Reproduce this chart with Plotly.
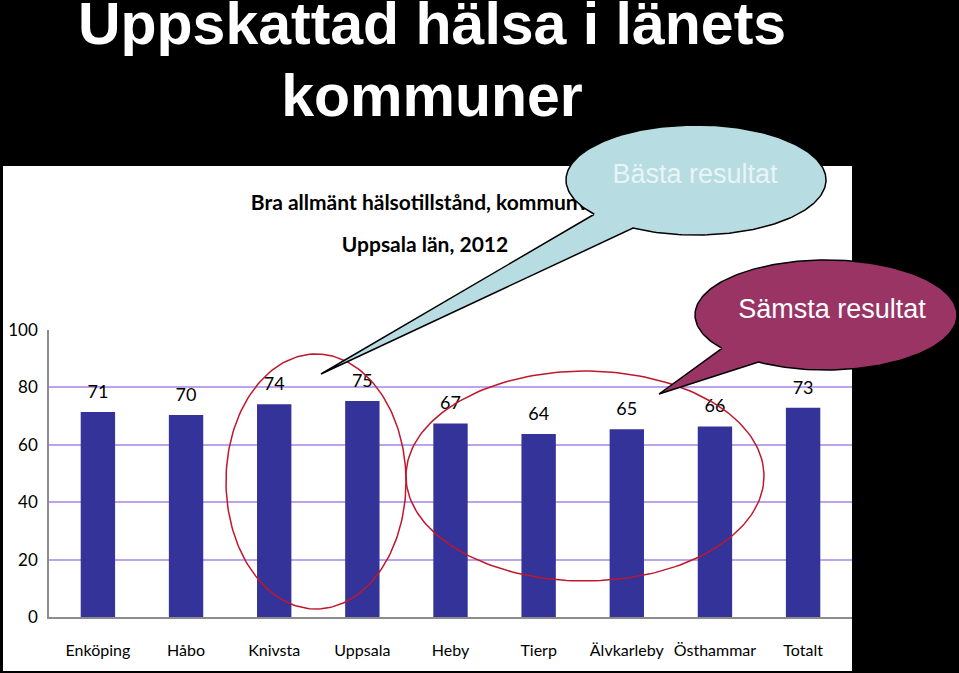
import numpy as np
import plotly.graph_objects as go

W, H = 959, 673

# ---- data ----
categories = ["Enköping", "Håbo", "Knivsta", "Uppsala", "Heby", "Tierp", "Älvkarleby", "Östhammar", "Totalt"]
values = [71.4, 70.4, 74.1, 75.3, 67.4, 63.8, 65.4, 66.4, 72.9]
value_labels = ["71", "70", "74", "75", "67", "64", "65", "66", "73"]
y_tick_values = [0, 20, 40, 60, 80, 100]
main_title_lines = ["Uppskattad hälsa i länets", "kommuner"]
chart_title_lines = ["Bra allmänt hälsotillstånd, kommunvis", "Uppsala län, 2012"]
callout_best_text = "Bästa resultat"
callout_worst_text = "Sämsta resultat"

NARROW = "Lato, Roboto, sans-serif"
ARIAL = "Liberation Sans, Arial, sans-serif"

# plot area in pixels
L, R, T, B = 49, 852, 330, 617


def ellipse(cx, cy, rx, ry, a0=0, a1=360, n=200):
    t = np.radians(np.linspace(a0, a1, n))
    return list(cx + rx * np.cos(t)), list(cy + ry * np.sin(t))


def callout(cx, cy, rx, ry, a_start, a_end, tip):
    xs, ys = ellipse(cx, cy, rx, ry, a_start, a_end + 360, 240)
    xs = xs + [tip[0], xs[0]]
    ys = ys + [tip[1], ys[0]]
    return xs, ys


fig = go.Figure()

# bars
fig.add_trace(go.Bar(
    x=categories, y=values, marker=dict(color="#333399", line=dict(width=0)),
    xaxis="x", yaxis="y", hoverinfo="skip", showlegend=False,
))

# value labels
fig.add_trace(go.Scatter(
    x=categories, y=values, mode="markers+text", text=value_labels,
    textposition="top center", marker=dict(size=14, opacity=0),
    textfont=dict(family=NARROW, size=18, color="black"),
    cliponaxis=False, xaxis="x", yaxis="y", hoverinfo="skip", showlegend=False,
))

# red ellipses
for (cx, cy, rx, ry) in [(316, 481.5, 90, 127.5), (585, 476, 179, 105)]:
    ex, ey = ellipse(cx, cy, rx, ry)
    fig.add_trace(go.Scatter(x=ex, y=ey, mode="lines", line=dict(color="#c0172c", width=1.5),
                             xaxis="x2", yaxis="y2", hoverinfo="skip", showlegend=False))

# main title
fig.add_trace(go.Scatter(
    x=[432, 432], y=[29, 101], mode="text",
    text=["<b>%s</b>" % s for s in main_title_lines], textposition="middle center",
    textfont=dict(family=ARIAL, size=59, color="white"),
    cliponaxis=False, xaxis="x2", yaxis="y2", hoverinfo="skip", showlegend=False,
))

# chart title
fig.add_trace(go.Scatter(
    x=[427, 425], y=[205, 247], mode="text",
    text=["<b>%s</b>" % s for s in chart_title_lines], textposition="middle center",
    textfont=dict(family=NARROW, size=21, color="black"),
    cliponaxis=False, xaxis="x2", yaxis="y2", hoverinfo="skip", showlegend=False,
))

# callouts
bx, by = callout(696, 180, 130, 55, 141.5, 119, (321, 374))
fig.add_trace(go.Scatter(x=bx, y=by, mode="lines", fill="toself", fillcolor="#b7dde2",
                         line=dict(color="black", width=1.5),
                         xaxis="x2", yaxis="y2", hoverinfo="skip", showlegend=False))
wx, wy = callout(826, 315, 131, 55, 142.6, 121, (659, 394))
fig.add_trace(go.Scatter(x=wx, y=wy, mode="lines", fill="toself", fillcolor="#9a3465",
                         line=dict(color="black", width=1.5),
                         xaxis="x2", yaxis="y2", hoverinfo="skip", showlegend=False))

fig.add_trace(go.Scatter(
    x=[695], y=[176], mode="text", text=[callout_best_text], textposition="middle center",
    textfont=dict(family=ARIAL, size=27, color="#e8f4f5"),
    cliponaxis=False, xaxis="x2", yaxis="y2", hoverinfo="skip", showlegend=False,
))
fig.add_trace(go.Scatter(
    x=[832], y=[311], mode="text", text=[callout_worst_text], textposition="middle center",
    textfont=dict(family=ARIAL, size=27, color="white"),
    cliponaxis=False, xaxis="x2", yaxis="y2", hoverinfo="skip", showlegend=False,
))

fig.update_layout(
    width=W, height=H,
    margin=dict(l=0, r=0, t=0, b=0, autoexpand=False),
    paper_bgcolor="black",
    plot_bgcolor="rgba(0,0,0,0)",
    bargap=0.61,
    showlegend=False,
    xaxis=dict(
        domain=[L / W, R / W], anchor="y", type="category", automargin=False,
        showgrid=False, showline=True, linecolor="#8c8c8c", linewidth=1.5,
        ticks="", tickangle=0, tickfont=dict(family=NARROW, size=16, color="black"),
        ticklabelstandoff=18, fixedrange=True,
    ),
    yaxis=dict(
        domain=[1 - B / H, 1 - T / H], anchor="x", range=[0, 100], automargin=False,
        tickvals=y_tick_values, showgrid=True, gridcolor="#bda2ec", gridwidth=1.5,
        zeroline=False, showline=True, linecolor="#8c8c8c", linewidth=1.5,
        ticks="", tickfont=dict(family=NARROW, size=17, color="black"),
        ticklabelstandoff=6, fixedrange=True,
    ),
    xaxis2=dict(domain=[0, 1], anchor="y2", range=[0, W], visible=False, fixedrange=True),
    yaxis2=dict(domain=[0, 1], anchor="x2", range=[H, 0], visible=False, fixedrange=True),
    shapes=[dict(type="rect", xref="paper", yref="paper", layer="below",
                 x0=3 / W, x1=852 / W, y0=1 - 671 / H, y1=1 - 166 / H,
                 fillcolor="white", line=dict(width=0))],
)

fig.write_html("out.html", config={"displayModeBar": False})
